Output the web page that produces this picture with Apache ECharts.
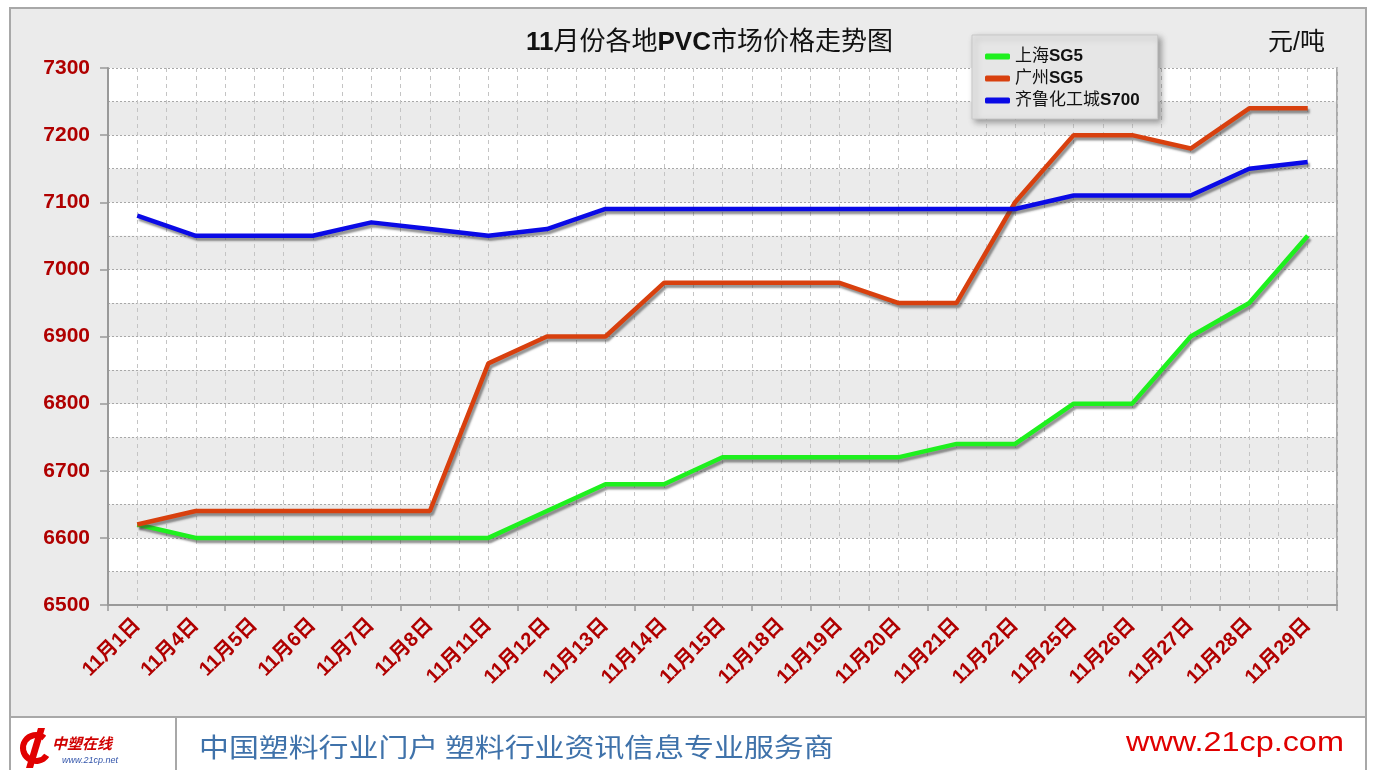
<!DOCTYPE html>
<html>
<head>
<meta charset="utf-8">
<script src="https://cdn.jsdelivr.net/npm/echarts@6/dist/echarts.min.js"></script>
<style>
  html, body { margin: 0; padding: 0; background: #fff; }
  #main { width: 1373px; height: 770px; }
</style>
</head>
<body>
<div id="main"></div>
<script>
// 日期与各地价格（元/吨）
const categories = ['11月1日', '11月4日', '11月5日', '11月6日', '11月7日', '11月8日', '11月11日',
  '11月12日', '11月13日', '11月14日', '11月15日', '11月18日', '11月19日', '11月20日', '11月21日',
  '11月22日', '11月25日', '11月26日', '11月27日', '11月28日', '11月29日'];
const shanghaiSG5 = [6620, 6600, 6600, 6600, 6600, 6600, 6600, 6640, 6680, 6680, 6720,
  6720, 6720, 6720, 6740, 6740, 6800, 6800, 6900, 6950, 7050];
const guangzhouSG5 = [6620, 6640, 6640, 6640, 6640, 6640, 6860, 6900, 6900, 6980, 6980,
  6980, 6980, 6950, 6950, 7100, 7200, 7200, 7180, 7240, 7240];
const qiluS700 = [7080, 7050, 7050, 7050, 7070, 7060, 7050, 7060, 7090, 7090, 7090,
  7090, 7090, 7090, 7090, 7090, 7110, 7110, 7110, 7150, 7160];
const seriesNames = ['上海SG5', '广州SG5', '齐鲁化工城S700'];
const yMin = 6500;
const yMax = 7300;

const FONT = 'Arial, "Liberation Sans", "Noto Sans CJK SC", sans-serif';
const CJK = '"Noto Sans CJK SC", sans-serif';
const RED = '#b00000';

const chart = echarts.init(document.getElementById('main'));

function lineSeries(name, data, color) {
  return {
    name: name,
    type: 'line',
    xAxisIndex: 0,
    yAxisIndex: 0,
    data: data,
    symbol: 'none',
    z: 5,
    lineStyle: {
      color: color,
      width: 4.5,
      shadowColor: 'rgba(60,60,60,0.55)',
      shadowBlur: 2,
      shadowOffsetX: 2,
      shadowOffsetY: 3
    },
    itemStyle: { color: color }
  };
}

const option = {
  backgroundColor: '#ffffff',
  animation: false,
  title: {
    text: '{b|11}月份各地{b|PVC}市场价格走势图',
    left: 521,
    top: 25,
    textStyle: {
      fontFamily: FONT,
      fontSize: 26,
      fontWeight: 'normal',
      color: '#111',
      rich: {
        b: { fontFamily: FONT, fontSize: 26, fontWeight: 'bold', color: '#111' }
      }
    }
  },
  legend: {
    data: seriesNames,
    orient: 'vertical',
    left: 972,
    top: 35,
    padding: [13, 18, 10, 13],
    itemGap: 5,
    itemWidth: 25,
    itemHeight: 6,
    icon: 'roundRect',
    backgroundColor: '#e6e6e6',
    borderColor: '#c8c8c8',
    borderWidth: 1,
    shadowColor: 'rgba(0,0,0,0.35)',
    shadowBlur: 6,
    shadowOffsetX: 3,
    shadowOffsetY: 3,
    formatter: function (name) {
      return name.replace(/([A-Z0-9]+)$/, '{b|$1}');
    },
    textStyle: {
      fontFamily: FONT,
      fontSize: 17,
      color: '#111',
      rich: {
        b: { fontFamily: FONT, fontSize: 17, fontWeight: 'bold', color: '#111' }
      }
    }
  },
  grid: {
    left: 108,
    right: 36,
    top: 68,
    bottom: 165,
    containLabel: false
  },
  xAxis: [
    {
      type: 'category',
      data: categories,
      boundaryGap: true,
      z: 3,
      axisLine: { lineStyle: { color: '#999', width: 2 } },
      axisTick: { show: false },
      splitLine: { show: false },
      axisLabel: {
        interval: 0,
        rotate: 45,
        margin: 17,
        fontFamily: FONT,
        fontSize: 20,
        fontWeight: 'bold',
        color: RED
      }
    },
    {
      // 仅用于绘制竖向虚线网格与刻度
      type: 'value',
      position: 'bottom',
      min: 0,
      max: categories.length,
      interval: 1,
      z: 2,
      axisLine: { show: false },
      axisTick: { show: true, length: 6, lineStyle: { color: '#999', width: 1.5 } },
      minorTick: { show: true, splitNumber: 2, length: 3, lineStyle: { color: '#aaa', width: 1 } },
      axisLabel: { show: false },
      splitLine: { show: true, lineStyle: { color: '#c4c4c4', type: [4, 4], width: 1 } },
      minorSplitLine: { show: true, lineStyle: { color: '#c4c4c4', type: [4, 4], width: 1 } }
    }
  ],
  yAxis: [
    {
      type: 'value',
      min: yMin,
      max: yMax,
      interval: 100,
      z: 3,
      axisLine: { show: true, lineStyle: { color: '#999', width: 2 } },
      axisTick: { show: true, length: 8, lineStyle: { color: '#999', width: 1.5 } },
      splitLine: { show: false },
      axisLabel: {
        margin: 18,
        fontFamily: FONT,
        fontSize: 21,
        fontWeight: 'bold',
        color: RED,
        formatter: function (v) { return String(v); }
      }
    },
    {
      // 背景色带与横向点线
      type: 'value',
      min: yMin,
      max: yMax,
      interval: 50,
      position: 'right',
      z: 0,
      axisLine: { show: true, lineStyle: { color: '#aaa', width: 2 } },
      axisTick: { show: false },
      axisLabel: { show: false },
      splitLine: { show: true, lineStyle: { color: '#a8a8a8', type: [2, 2], width: 1 } },
      splitArea: { show: true, areaStyle: { color: ['#ebebeb', '#ffffff'] } }
    }
  ],
  graphic: [
    {
      type: 'rect',
      z: -10,
      shape: { x: 10, y: 8, width: 1356, height: 709 },
      style: { fill: '#ebebeb', stroke: '#a8a8a8', lineWidth: 2 }
    },
    {
      type: 'rect',
      z: -10,
      shape: { x: 10, y: 717, width: 1356, height: 60 },
      style: { fill: '#ffffff', stroke: '#a8a8a8', lineWidth: 2 }
    },
    {
      type: 'line',
      z: -9,
      shape: { x1: 176, y1: 718, x2: 176, y2: 770 },
      style: { stroke: '#a8a8a8', lineWidth: 2 }
    },
    {
      type: 'text',
      x: 1268,
      y: 31,
      style: { text: '元/吨', fontFamily: FONT, fontSize: 25, fill: '#111' }
    },
    {
      type: 'arc',
      shape: { cx: 36, cy: 748, r: 13, startAngle: 0.6, endAngle: 5.4 },
      style: { stroke: '#e10000', lineWidth: 6, fill: null }
    },
    {
      type: 'polygon',
      shape: { points: [[38, 728], [45, 728], [33, 768], [26, 768]] },
      style: { fill: '#e10000' }
    },
    {
      type: 'text',
      x: 52,
      y: 736,
      style: { text: '中塑在线', fontFamily: CJK, fontSize: 15, fontWeight: 'bold', fontStyle: 'italic', fill: '#d00000' }
    },
    {
      type: 'text',
      x: 62,
      y: 756,
      style: { text: 'www.21cp.net', fontFamily: FONT, fontSize: 9, fontStyle: 'italic', fill: '#3355aa' }
    },
    {
      type: 'text',
      x: 199,
      y: 734,
      scaleX: 1.15,
      style: { text: '中国塑料行业门户 塑料行业资讯信息专业服务商', fontFamily: CJK, fontSize: 26, fill: '#3f72aa' }
    },
    {
      type: 'text',
      x: 1126,
      y: 730,
      scaleX: 1.2,
      style: { text: 'www.21cp.com', fontFamily: FONT, fontSize: 27, fill: '#e00000' }
    }
  ],
  series: [
    lineSeries(seriesNames[0], shanghaiSG5, '#1ef01e'),
    lineSeries(seriesNames[1], guangzhouSG5, '#d8400e'),
    lineSeries(seriesNames[2], qiluS700, '#0a0ae6')
  ]
};

chart.setOption(option);

window.addEventListener('resize', () => {
  chart.resize();
});
</script>
</body>
</html>
